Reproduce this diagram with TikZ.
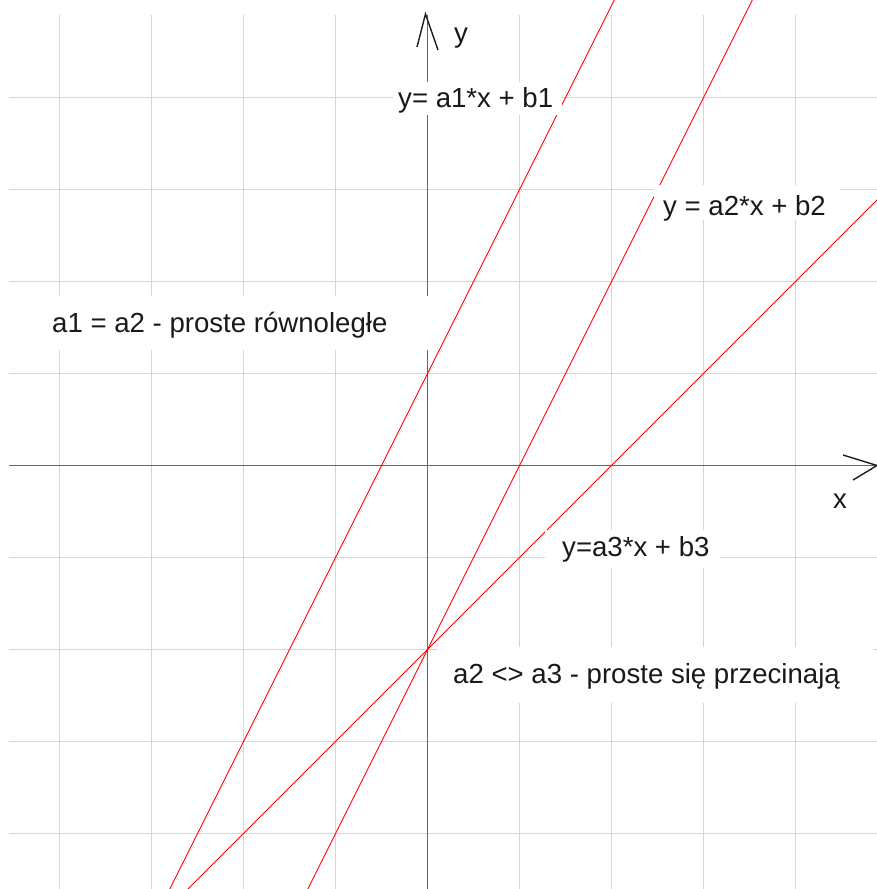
\documentclass[tikz,border=0pt]{standalone}
\usepackage{fontspec}
\setmainfont{Liberation Sans}
\definecolor{gridc}{RGB}{214,214,214}
\definecolor{axisc}{RGB}{105,105,105}
\definecolor{tipc}{RGB}{30,30,30}
\definecolor{txtc}{RGB}{25,25,25}
\begin{document}
\begin{tikzpicture}[x=1pt,y=-1pt,
  gridline/.style={draw=gridc, line width=1.5pt},
  axisline/.style={draw=axisc, line width=1.3pt},
  tipline/.style={draw=tipc, line width=1.4pt},
  fnline/.style={draw=red, line width=0.9pt},
  lbl/.style={anchor=base west, inner sep=0pt, font=\fontsize{27.6}{32}\selectfont, text=txtc},
  maskbox/.style={fill=white}]
\useasboundingbox (0,0) rectangle (877,889);
\fill[white] (0,0) rectangle (877,889);
% grid
\foreach \i in {-4,...,4}{
  \draw[gridline] ({427.5+92*\i},15) -- ({427.5+92*\i},889);
  \draw[gridline] (9,{465.5+92*\i}) -- (877,{465.5+92*\i});
}
% axes
\coordinate (O) at (427.5,465.5);
\coordinate (xa0) at (9,465.5);
\coordinate (xa1) at (877,465.5);
\coordinate (ya0) at (427.5,889);
\coordinate (ya1) at (427.5,15);
\draw[axisline] (xa0) -- (xa1);
\draw[axisline] (ya0) -- (ya1);
% arrow tips
\coordinate (yt) at (425.5,14);
\coordinate (ytl) at (417,47);
\coordinate (ytr) at (438,50);
\draw[tipline] (ytl) -- (yt) -- (ytr);
\coordinate (xt) at (877,465.5);
\coordinate (xtu) at (843,455);
\coordinate (xtd) at (853,480);
\draw[tipline] (xtu) -- (xt) -- (xtd);
% functions
\begin{scope}
\clip (0,0) rectangle (877,889);
\begin{scope}[shift={(427.5,465.5)}, x=92pt, y=92pt]
  \draw[fnline] (-3,-5) -- (2.5,6);   % y = 2x + 1
  \draw[fnline] (-1.5,-5) -- (4,6);   % y = 2x - 2
  \draw[fnline] (-3,-5) -- (5,3);     % y = x - 2
\end{scope}
\end{scope}
% labels
\fill[maskbox] (393,82) rectangle (562,115);
\node[lbl] (l1) at (398,107) {y= a1*x + b1};
\fill[maskbox] (654,185) rectangle (840,220);
\node[lbl] (l2) at (663,215) {y = a2*x + b2};
\fill[maskbox] (545,530) rectangle (720,568);
\node[lbl] (l3) at (562,556) {y=a3*x + b3};
\fill[maskbox] (30,296) rectangle (430,350);
\node[lbl] (l4) at (52,332) {a1 = a2 - proste równoległe};
\fill[maskbox] (437,647) rectangle (873,703);
\node[lbl] (l5) at (453,683) {a2 <> a3 - proste się przecinają};
\node[lbl] (ly) at (454,42) {y};
\node[lbl] (lx) at (833,508) {x};
\end{tikzpicture}
\end{document}
